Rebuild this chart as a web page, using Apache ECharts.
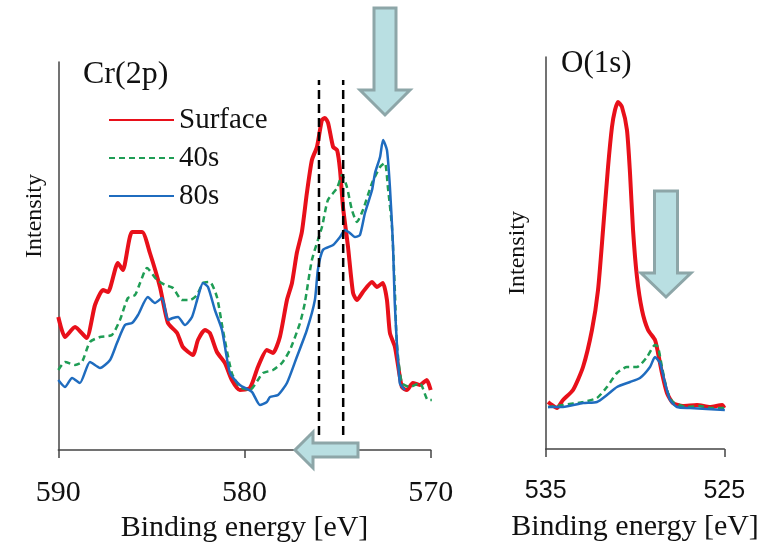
<!DOCTYPE html>
<html>
<head>
<meta charset="utf-8">
<script src="https://cdn.jsdelivr.net/npm/echarts@6/dist/echarts.min.js"></script>
<style>
html,body{margin:0;padding:0;background:#fff;}
#chart{width:767px;height:548px;}
</style>
</head>
<body>
<div id="chart"></div>
<script>
// ---------- Cr(2p) panel data ----------
const crSurfaceE = [590.00,589.64,589.10,588.48,588.03,587.60,587.33,586.80,586.53,586.04,585.50,585.08,584.54,584.11,583.62,583.31,582.77,582.50,582.13,581.86,581.48,581.05,580.68,580.25,579.71,579.28,578.80,578.47,578.10,577.72,577.45,577.19,576.92,576.65,576.38,576.11,575.84,575.68,575.51,575.24,575.03,574.87,574.71,574.44,574.17,573.96,573.64,573.15,572.89,572.57,572.35,572.19,571.92,571.55,571.28,570.96,570.58,570.21,570.00];
const crSurfaceI = [133,113,123,112,145,160,158,187,180,218,218,197,163,127,117,103,95,110,120,117,98,87,70,60,62,83,100,97,113,150,167,197,218,257,290,303,330,332,327,303,300,280,243,203,157,150,158,168,163,167,150,117,103,63,60,67,65,70,60];

const cr40sE = [590.00,589.64,589.10,588.73,588.30,587.76,587.12,586.69,586.26,585.88,585.61,585.24,584.70,584.27,583.84,583.36,582.92,582.55,582.23,581.86,581.48,581.16,580.68,580.25,579.71,579.28,579.01,578.47,577.99,577.56,577.02,576.76,576.38,575.84,575.52,575.03,574.76,574.50,574.23,573.96,573.64,573.15,572.72,572.46,572.30,572.08,571.92,571.82,571.55,571.12,570.58,570.15,569.94];
const cr40sI = [80,88,85,88,108,113,115,130,152,155,167,182,170,165,162,150,150,155,167,168,153,120,77,63,60,70,77,80,87,100,127,147,190,223,250,262,275,263,240,228,240,267,283,287,263,223,157,107,67,63,67,50,50];

const cr80sE = [590.00,589.64,589.26,588.84,588.30,587.76,587.22,586.85,586.42,586.04,585.72,585.19,584.81,584.43,584.11,583.84,583.57,583.20,582.82,582.50,582.23,581.96,581.59,581.21,580.78,580.25,579.60,579.17,578.80,578.63,578.20,577.72,577.19,576.65,576.22,576.06,575.79,575.24,574.87,574.61,574.34,574.07,573.80,573.53,573.15,572.99,572.72,572.56,572.35,572.19,572.03,571.92,571.66,571.39];
const cr80sI = [70,63,72,67,88,82,90,107,125,127,135,153,147,152,130,132,133,125,133,153,167,163,140,120,77,65,58,45,48,53,55,67,93,120,150,180,200,205,213,220,217,213,215,237,260,277,293,310,300,263,207,143,67,60];

// reference energies of the dashed guide lines
const guideE = [576.0, 574.7];
const guideI = [15, 370];

// ---------- O(1s) panel data ----------
const oSurfaceE = [534.87,534.65,534.37,534.03,533.47,532.91,532.41,532.07,531.79,531.51,531.29,531.12,530.95,530.73,530.45,530.28,530.11,529.89,529.61,529.27,528.88,528.71,528.49,528.21,527.88,527.32,526.53,525.80,525.12,525.00];
const oSurfaceI = [47,44,41,49,59,82,119,159,219,282,322,339,347,342,319,276,219,172,139,119,109,96,76,56,46,43,44,42,44,41];

const o40sE = [534.87,534.03,532.91,532.13,531.57,531.01,530.45,529.89,529.33,528.88,528.71,528.49,528.21,527.88,527.09,526.37,525.70,524.97];
const o40sI = [42,44,47,51,62,76,82,82,92,104,102,82,59,47,42,43,41,41];

const o80sE = [534.87,534.03,532.91,532.13,531.57,531.01,530.28,529.72,529.16,528.88,528.60,528.32,528.04,527.65,526.92,524.97];
const o80sI = [42,42,46,47,54,62,67,71,82,92,86,66,49,42,41,39];

const seriesNames = ['Surface','40s','80s'];
const crTicks = [570, 590];   // axis range
const oTicks = [525, 535];

function pairs(xs, ys){ return xs.map((x,i)=>[x, ys[i]]); }

const RED = '#e8101a', GREEN = '#1f9d55', BLUE = '#1f6cbf';
const SERIF = 'Liberation Serif';
const SANS = 'Liberation Sans';

const chart = echarts.init(document.getElementById('chart'), null, {renderer:'canvas'});

function arrowDown(cx, top, shaftBot, tip, shaftHalf, headHalf){
  return [[cx-shaftHalf, top],[cx+shaftHalf, top],[cx+shaftHalf, shaftBot],[cx+headHalf, shaftBot],[cx, tip],[cx-headHalf, shaftBot],[cx-shaftHalf, shaftBot]];
}
const arrowStyle = {fill:'#b9dfe2', stroke:'#8da6a8', lineWidth:3};

const option = {
  backgroundColor:'#fff',
  animation:false,
  title:[
    {text:'Cr(2p)', left:78, top:54, textStyle:{fontFamily:SERIF, fontWeight:'normal', fontSize:32, color:'#111'}},
    {text:'O(1s)', left:556, top:43, textStyle:{fontFamily:SERIF, fontWeight:'normal', fontSize:31, color:'#111'}}
  ],
  legend:{
    data:seriesNames,
    orient:'vertical',
    left:103, top:100,
    itemWidth:65, itemHeight:14, itemGap:8,
    itemStyle:{opacity:0},
    textStyle:{fontFamily:SERIF, fontSize:29, color:'#111', lineHeight:30},
    selectedMode:false
  },
  grid:[
    {left:58.3, width:372.4, top:62, height:388, containLabel:false},
    {left:545.7, width:178.6, top:57, height:392, containLabel:false}
  ],
  xAxis:[
    {gridIndex:0, type:'value', min:crTicks[0], max:crTicks[1], interval:10, inverse:true,
     axisLine:{lineStyle:{color:'#444', width:1.5}},
     axisTick:{show:true, length:8, lineStyle:{color:'#444', width:1.5}},
     axisLabel:{fontFamily:SERIF, fontSize:30, color:'#111', margin:28},
     splitLine:{show:false},
     name:'Binding energy [eV]', nameLocation:'middle', nameGap:60,
     nameTextStyle:{fontFamily:SERIF, fontSize:30, color:'#111'}},
    {gridIndex:1, type:'value', min:oTicks[0], max:oTicks[1], interval:10, inverse:true,
     axisLine:{lineStyle:{color:'#444', width:1.5}},
     axisTick:{show:true, length:8, lineStyle:{color:'#444', width:1.5}},
     axisLabel:{fontFamily:SANS, fontSize:25, color:'#111', margin:30},
     splitLine:{show:false},
     name:'Binding energy [eV]', nameLocation:'middle', nameGap:63,
     nameTextStyle:{fontFamily:SERIF, fontSize:30, color:'#111'}}
  ],
  yAxis:[
    {gridIndex:0, type:'value', min:0, max:388,
     axisLine:{show:true, lineStyle:{color:'#444', width:1.5}},
     axisTick:{show:false}, axisLabel:{show:false}, splitLine:{show:false},
     name:'Intensity', nameLocation:'middle', nameGap:12,
     nameTextStyle:{fontFamily:SERIF, fontSize:24, color:'#111', padding:[0,0,0,80]}},
    {gridIndex:1, type:'value', min:0, max:392,
     axisLine:{show:true, lineStyle:{color:'#444', width:1.5}},
     axisTick:{show:false}, axisLabel:{show:false}, splitLine:{show:false},
     name:'Intensity', nameLocation:'middle', nameGap:16,
     nameTextStyle:{fontFamily:SERIF, fontSize:24, color:'#111'}}
  ],
  series:[
    {name:'Surface', type:'line', xAxisIndex:0, yAxisIndex:0, data:pairs(crSurfaceE, crSurfaceI), symbol:'none', smooth:0.2,
     lineStyle:{color:RED, width:4}, itemStyle:{color:RED}, z:2},
    {name:'40s', type:'line', xAxisIndex:0, yAxisIndex:0, data:pairs(cr40sE, cr40sI), symbol:'none', smooth:0.2,
     lineStyle:{color:GREEN, width:2.5, type:[6,4]}, itemStyle:{color:GREEN}, z:3},
    {name:'80s', type:'line', xAxisIndex:0, yAxisIndex:0, data:pairs(cr80sE, cr80sI), symbol:'none', smooth:0.2,
     lineStyle:{color:BLUE, width:2.5}, itemStyle:{color:BLUE}, z:4},
    {name:'guide1', type:'line', xAxisIndex:0, yAxisIndex:0, data:[[guideE[0],guideI[0]],[guideE[0],guideI[1]]], symbol:'none',
     lineStyle:{color:'#000', width:2.5, type:[9,5]}, z:5},
    {name:'guide2', type:'line', xAxisIndex:0, yAxisIndex:0, data:[[guideE[1],guideI[0]],[guideE[1],guideI[1]]], symbol:'none',
     lineStyle:{color:'#000', width:2.5, type:[9,5]}, z:5},
    {name:'Surface', type:'line', xAxisIndex:1, yAxisIndex:1, data:pairs(oSurfaceE, oSurfaceI), symbol:'none', smooth:0.2,
     lineStyle:{color:RED, width:4}, itemStyle:{color:RED}, z:2},
    {name:'40s', type:'line', xAxisIndex:1, yAxisIndex:1, data:pairs(o40sE, o40sI), symbol:'none', smooth:0.2,
     lineStyle:{color:GREEN, width:2.5, type:[6,4]}, itemStyle:{color:GREEN}, z:3},
    {name:'80s', type:'line', xAxisIndex:1, yAxisIndex:1, data:pairs(o80sE, o80sI), symbol:'none', smooth:0.2,
     lineStyle:{color:BLUE, width:2.5}, itemStyle:{color:BLUE}, z:4}
  ],
  graphic:[
    {type:'polygon', z:100, shape:{points:arrowDown(385, 8, 90, 115, 11, 25)}, style:arrowStyle},
    {type:'polygon', z:100, shape:{points:arrowDown(666, 191, 273, 297, 11.5, 25)}, style:arrowStyle},
    {type:'polygon', z:100, shape:{points:[[358,443],[358,457],[313,457],[313,468],[295,450],[313,432],[313,443]]}, style:arrowStyle}
  ]
};
chart.setOption(option);
</script>
</body>
</html>
